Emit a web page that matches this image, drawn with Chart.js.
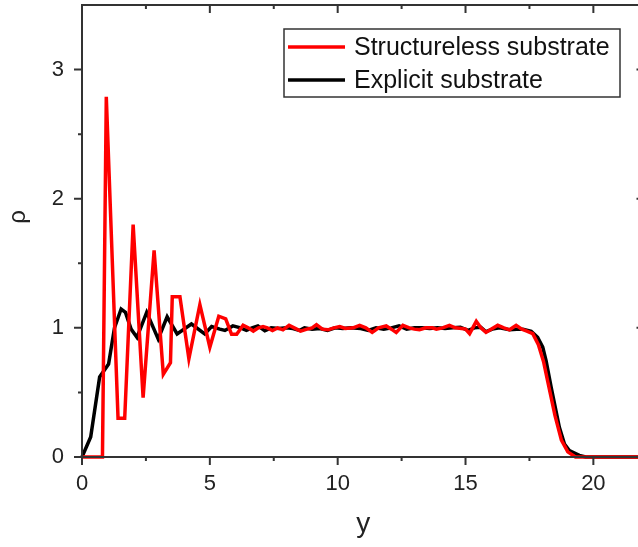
<!DOCTYPE html>
<html lang="en">
<head>
  <meta charset="UTF-8">
  <title>Density profile</title>
  <script src="https://cdn.jsdelivr.net/npm/chart.js"></script>
  <style>
    html, body {
      margin: 0;
      padding: 0;
      background: white;
      overflow: hidden;
    }
    #wrap {
      width: 648px;
      height: 547px;
    }
  </style>
</head>
<body>
  <div id="wrap"><canvas id="rhoChart" width="648" height="547"></canvas></div>

  <script>
    // values
    const seriesNames = ['Structureless substrate', 'Explicit substrate'];

    const structX = [0, 0.8, 0.95, 1.41, 1.67, 2.0, 2.39, 2.82, 3.18, 3.46, 3.53, 3.83, 4.18, 4.61, 5.0, 5.35, 5.62,
      5.85, 6.05, 6.3, 6.5, 6.7, 6.9, 7.08, 7.25, 7.45, 7.65, 7.86, 8.1, 8.3, 8.55, 8.8, 9.0, 9.17, 9.4, 9.62, 9.85,
      10.08, 10.3, 10.6, 10.86, 11.1, 11.35, 11.6, 11.9, 12.1, 12.29, 12.55, 12.8, 13.0, 13.2, 13.45, 13.7, 13.86,
      14.1, 14.37, 14.6, 14.85, 15.0, 15.16, 15.42, 15.6, 15.8, 16.0, 16.26, 16.5, 16.72, 16.98, 17.2, 17.4, 17.63,
      17.85, 18.05, 18.2, 18.5, 18.75, 19.0, 19.3, 22];
    const structY = [0, 0, 2.79, 0.30, 0.30, 1.80, 0.46, 1.60, 0.64, 0.73, 1.24, 1.24, 0.76, 1.18, 0.85, 1.09, 1.07,
      0.95, 0.95, 1.02, 1.0, 0.975, 1.0, 1.01, 1.0, 0.98, 1.0, 0.985, 1.02, 1.0, 0.975, 0.99, 1.0, 1.025, 0.99, 0.985, 1.0,
      1.01, 0.995, 1.0, 1.02, 1.0, 0.965, 1.0, 1.015, 0.99, 0.965, 1.02, 1.0, 0.99, 0.985, 1.0, 1.0, 0.99,
      1.0, 1.02, 1.0, 0.995, 0.99, 0.955, 1.05, 1.0, 0.965, 0.99, 1.02, 1.0, 0.985, 1.02, 0.99, 0.975, 0.955,
      0.87, 0.74, 0.60, 0.32, 0.13, 0.04, 0, 0];

    const explicitX = [0, 0.34, 0.69, 1.04, 1.27, 1.53, 1.70, 1.92, 2.15, 2.53, 2.98, 3.33, 3.72, 4.28, 4.8, 5.07, 5.39,
      5.59, 5.9, 6.2, 6.43, 6.65, 6.88, 7.15, 7.4, 7.7, 8.0, 8.25, 8.5, 8.7, 9.0, 9.3, 9.6, 9.9, 10.2, 10.5, 10.9,
      11.2, 11.5, 11.8, 12.1, 12.4, 12.7, 13.0, 13.3, 13.6, 13.9, 14.2, 14.5, 14.8, 15.1, 15.35, 15.6, 15.8, 16.05,
      16.33, 16.72, 17.0, 17.24, 17.57, 17.82, 18.02, 18.15, 18.35, 18.67, 18.87, 19.06, 19.45, 19.7, 22];
    const explicitY = [0, 0.155, 0.62, 0.72, 1.0, 1.146, 1.12, 0.99, 0.927, 1.12, 0.914, 1.086, 0.953, 1.03, 0.953, 1.01, 0.99,
      0.98, 1.015, 1.0, 0.98, 1.0, 1.015, 0.977, 1.0, 0.995, 1.0, 0.995, 0.98, 1.0, 0.99, 0.995, 0.98, 1.0, 0.995, 1.0, 0.995,
      0.98, 1.0, 0.99, 1.0, 1.015, 0.99, 1.0, 1.0, 0.995, 1.0, 0.995, 1.0, 1.005, 0.98, 1.0, 1.005, 0.97, 0.99,
      1.0, 0.985, 0.99, 0.99, 0.973, 0.927, 0.85, 0.747, 0.54, 0.23, 0.10, 0.05, 0.013, 0, 0];

    const xMajor = [0, 5, 10, 15, 20];
    const xMinor = [2.5, 7.5, 12.5, 17.5];
    const yMajor = [0, 1, 2, 3];
    const yMinor = [0.5, 1.5, 2.5];

    const FONT = "'Liberation Sans', Arial, sans-serif";
    const AXIS_COLOR = '#333';
    const LINE_W = 3.5;

    function toPoints(xs, ys) {
      return xs.map((x, i) => ({ x: x, y: ys[i] }));
    }

    // drop the half-label padding chart.js keeps round the scales
    function noEdgePadding(scale) {
      scale.paddingTop = 0;
      scale.paddingBottom = 0;
      scale.paddingLeft = 0;
      scale.paddingRight = 0;
    }

    // box round the plot, ticks out on left/bottom and in on top/right
    const frameTicks = {
      id: 'frameTicks',
      afterDraw(chart) {
        const { ctx, chartArea: a, scales: { x, y } } = chart;
        ctx.save();
        ctx.strokeStyle = AXIS_COLOR;
        ctx.lineWidth = 2;
        ctx.strokeRect(a.left, a.top, a.right - a.left, a.bottom - a.top);
        ctx.beginPath();
        const xt = (v, len) => {
          const px = x.getPixelForValue(v);
          ctx.moveTo(px, a.bottom); ctx.lineTo(px, a.bottom + len);
          ctx.moveTo(px, a.top); ctx.lineTo(px, a.top + len);
        };
        const yt = (v, len) => {
          const py = y.getPixelForValue(v);
          ctx.moveTo(a.left, py); ctx.lineTo(a.left - len, py);
          ctx.moveTo(a.right, py); ctx.lineTo(a.right - len, py);
        };
        xMajor.forEach(v => xt(v, 8));
        xMinor.forEach(v => xt(v, 4));
        yMajor.forEach(v => yt(v, 8));
        yMinor.forEach(v => yt(v, 4));
        ctx.stroke();

        // y axis title, rotated, a little above the middle as in the figure
        ctx.translate(18, 217);
        ctx.rotate(-Math.PI / 2);
        ctx.font = '24px ' + FONT;
        ctx.fillStyle = '#222';
        ctx.textAlign = 'center';
        ctx.textBaseline = 'middle';
        ctx.fillText('ρ', 0, 0);
        ctx.restore();
      }
    };

    // legend box inside the plot, upper right
    const boxLegend = {
      id: 'boxLegend',
      afterDraw(chart) {
        const { ctx } = chart;
        const bx = 284, by = 29, bw = 336, bh = 68;
        ctx.save();
        ctx.fillStyle = 'white';
        ctx.fillRect(bx, by, bw, bh);
        ctx.strokeStyle = AXIS_COLOR;
        ctx.lineWidth = 1.5;
        ctx.strokeRect(bx, by, bw, bh);
        ctx.font = '25px ' + FONT;
        ctx.textBaseline = 'middle';
        chart.data.datasets.forEach((ds, i) => {
          const ly = by + 18 + i * 33;
          ctx.strokeStyle = ds.borderColor;
          ctx.lineWidth = LINE_W;
          ctx.beginPath();
          ctx.moveTo(bx + 4, ly);
          ctx.lineTo(bx + 61, ly);
          ctx.stroke();
          ctx.fillStyle = '#111';
          ctx.fillText(ds.label, bx + 70, ly + 1);
        });
        ctx.restore();
      }
    };

    new Chart(document.getElementById('rhoChart'), {
      type: 'line',
      data: {
        datasets: [
          {
            label: seriesNames[0],
            data: toPoints(structX, structY),
            borderColor: '#ff0000',
            borderWidth: LINE_W,
            pointRadius: 0,
            tension: 0,
            fill: false,
            clip: 4
          },
          {
            label: seriesNames[1],
            data: toPoints(explicitX, explicitY),
            borderColor: '#000000',
            borderWidth: LINE_W,
            pointRadius: 0,
            tension: 0,
            fill: false,
            clip: 4
          }
        ]
      },
      options: {
        responsive: false,
        animation: false,
        devicePixelRatio: 1,
        layout: { padding: { top: 5, right: 3.5, left: 0, bottom: 0 } },
        plugins: {
          legend: { display: false },
          tooltip: { enabled: false }
        },
        scales: {
          x: {
            type: 'linear',
            min: 0,
            max: 22,
            grid: { display: false, drawTicks: false },
            border: { display: false },
            ticks: {
              stepSize: 5,
              includeBounds: false,
              padding: 14,
              color: '#222',
              font: { family: FONT, size: 22 }
            },
            title: {
              display: true,
              text: 'y',
              color: '#222',
              font: { family: FONT, size: 28 },
              padding: { top: 0, bottom: 6 }
            },
            afterFit(scale) {
              scale.height = 90;
              noEdgePadding(scale);
            }
          },
          y: {
            type: 'linear',
            min: 0,
            max: 3.5,
            grid: { display: false, drawTicks: false },
            border: { display: false },
            ticks: {
              stepSize: 1,
              includeBounds: false,
              padding: 18,
              color: '#222',
              font: { family: FONT, size: 22 }
            },
            afterFit(scale) {
              scale.width = 82;
              noEdgePadding(scale);
            }
          }
        }
      },
      plugins: [frameTicks, boxLegend]
    });
  </script>
</body>
</html>
